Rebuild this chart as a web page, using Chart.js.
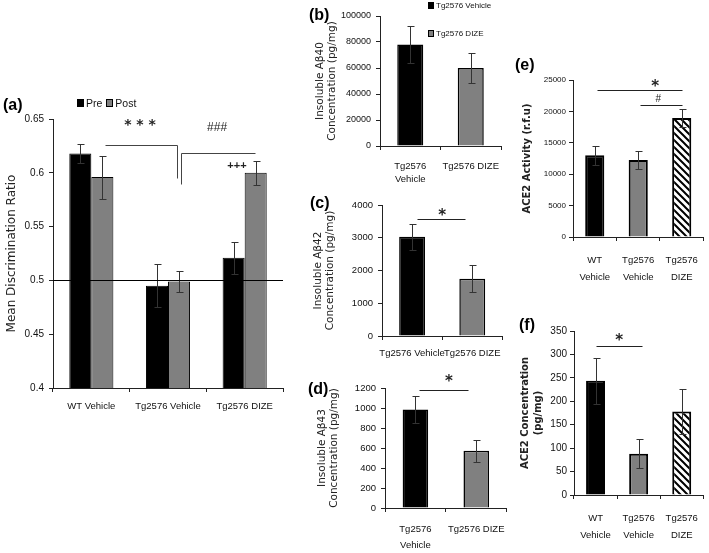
<!DOCTYPE html>
<html>
<head>
<meta charset="utf-8">
<script src="https://cdn.jsdelivr.net/npm/chart.js@4.4.1/dist/chart.umd.min.js"></script>
<style>
  html, body { margin: 0; padding: 0; background: #fff; }
  #fig { position: relative; width: 709px; height: 553px; overflow: hidden; background: #fff; }
  #fig canvas { position: absolute; }
  .lbl { position: absolute; font: bold 16px 'Liberation Sans', Arial, sans-serif; color: #000; line-height: 18px; }
  .leg { position: absolute; font-family: 'Liberation Sans', Arial, sans-serif; color: #111; white-space: nowrap; display: flex; align-items: center; }
  .sw { display: inline-block; border: 1px solid #000; box-sizing: border-box; margin-right: 2px; }
</style>
</head>
<body>
<div id="fig"></div>
<script>
const NARROW = "'Liberation Sans', Arial, sans-serif";
const WIDE = "'DejaVu Sans', Verdana, sans-serif";
const AXIS = '#222';

// (a) discrimination ratio, pre / post treatment
const groupsA = ['WT Vehicle', 'Tg2576 Vehicle', 'Tg2576 DIZE'];
const seriesA = ['Pre', 'Post'];
const preA = [0.618, 0.495, 0.521];
const preErrA = [0.009, 0.020, 0.015];
const postA = [0.596, 0.499, 0.600];
const postErrA = [0.020, 0.010, 0.011];
const ticksA = [0.4, 0.45, 0.5, 0.55, 0.6, 0.65];
const baselineA = 0.5;

// (b) insoluble Abeta40
const groupsB = [['Tg2576', 'Vehicle'], 'Tg2576 DIZE'];
const seriesB = ['Tg2576 Vehicle', 'Tg2576 DIZE'];
const valuesB = [78000, 60000];
const errB = [14300, 11500];
const ticksB = [0, 20000, 40000, 60000, 80000, 100000];

// (c) insoluble Abeta42
const groupsC = ['Tg2576 Vehicle', 'Tg2576 DIZE'];
const valuesC = [3030, 1750];
const errC = [400, 410];
const ticksC = [0, 1000, 2000, 3000, 4000];

// (d) insoluble Abeta43
const groupsD = [['Tg2576', 'Vehicle'], 'Tg2576 DIZE'];
const valuesD = [985, 572];
const errD = [135, 108];
const ticksD = [0, 200, 400, 600, 800, 1000, 1200];

// (e) ACE2 activity, (f) ACE2 concentration
const groupsEF = [['WT', 'Vehicle'], ['Tg2576', 'Vehicle'], ['Tg2576', 'DIZE']];
const valuesE = [13000, 12250, 18950];
const errE = [1500, 1430, 1500];
const ticksE = [0, 5000, 10000, 15000, 20000, 25000];
const valuesF = [244, 88, 178];
const errF = [49, 31, 48];
const ticksF = [0, 50, 100, 150, 200, 250, 300, 350];

const fig = document.getElementById('fig');

function makeHatch() {
    const s = 7;
    const c = document.createElement('canvas');
    c.width = s; c.height = s;
    const g = c.getContext('2d');
    g.fillStyle = '#fff';
    g.fillRect(0, 0, s, s);
    g.strokeStyle = '#000';
    g.lineWidth = 2;
    g.beginPath();
    g.moveTo(-1, -1); g.lineTo(s + 1, s + 1);
    g.moveTo(-1, s - 1); g.lineTo(1, s + 1);
    g.moveTo(s - 1, -1); g.lineTo(s + 1, 1);
    g.stroke();
    return g.createPattern(c, 'repeat');
}
const hatch = makeHatch();

const errorBars = {
    id: 'errorBars',
    afterDatasetsDraw(chart) {
        const ctx = chart.ctx;
        const y = chart.scales.y;
        ctx.save();
        ctx.strokeStyle = '#333';
        ctx.lineWidth = 1;
        chart.data.datasets.forEach((ds, i) => {
            if (!ds.errors) return;
            chart.getDatasetMeta(i).data.forEach((bar, j) => {
                const x = Math.round(bar.x) + 0.5;
                const hi = Math.round(y.getPixelForValue(ds.data[j] + ds.errors[j])) + 0.5;
                const lo = Math.round(y.getPixelForValue(ds.data[j] - ds.errors[j])) + 0.5;
                ctx.beginPath();
                ctx.moveTo(x, hi); ctx.lineTo(x, lo);
                ctx.moveTo(x - 3, hi); ctx.lineTo(x + 4, hi);
                ctx.moveTo(x - 3, lo); ctx.lineTo(x + 4, lo);
                ctx.stroke();
            });
        });
        ctx.restore();
    }
};

// significance lines and marks, placed in category / value units
function makeNotes(cfg) {
    return {
        id: 'notes',
        afterDatasetsDraw(chart) {
            const {ctx, chartArea} = chart;
            const x = chart.scales.x, y = chart.scales.y;
            ctx.save();
            if (cfg.refLine !== undefined) {
                const py = Math.round(y.getPixelForValue(cfg.refLine)) + 0.5;
                ctx.strokeStyle = '#000';
                ctx.lineWidth = 1;
                ctx.beginPath();
                ctx.moveTo(chartArea.left, py);
                ctx.lineTo(chartArea.right, py);
                ctx.stroke();
            }
            (cfg.lines || []).forEach(l => {
                ctx.strokeStyle = l.color || '#222';
                ctx.lineWidth = 1;
                ctx.beginPath();
                l.pts.forEach(([c, v], k) => {
                    const px = Math.round(x.getPixelForValue(c)) + 0.5;
                    const py = Math.round(y.getPixelForValue(v)) + 0.5;
                    if (k) ctx.lineTo(px, py); else ctx.moveTo(px, py);
                });
                ctx.stroke();
            });
            (cfg.marks || []).forEach(m => {
                ctx.font = m.font;
                ctx.fillStyle = '#222';
                ctx.textAlign = 'center';
                ctx.textBaseline = 'middle';
                ctx.fillText(m.text, x.getPixelForValue(m.at[0]), y.getPixelForValue(m.at[1]));
            });
            ctx.restore();
        }
    };
}

function makePanel(box, area, cfg) {
    const [bx, by, bw, bh] = box;
    const [L, T, R, B] = area;
    const cv = document.createElement('canvas');
    cv.width = bw; cv.height = bh;
    cv.style.left = bx + 'px';
    cv.style.top = by + 'px';
    cv.style.width = bw + 'px';
    cv.style.height = bh + 'px';
    fig.appendChild(cv);
    const tf = cfg.titleFont;
    return new Chart(cv, {
        type: 'bar',
        data: { labels: cfg.labels, datasets: cfg.datasets },
        options: {
            responsive: false,
            animation: false,
            devicePixelRatio: 1,
            layout: { padding: { left: 0, top: T - by, right: bx + bw - R, bottom: 0 } },
            plugins: { legend: { display: false }, tooltip: { enabled: false } },
            scales: {
                x: {
                    offset: true,
                    grid: { offset: true, drawOnChartArea: false, tickLength: 4, color: AXIS },
                    border: { color: AXIS },
                    ticks: { color: '#111', font: cfg.xFont, padding: cfg.xPad, maxRotation: 0, autoSkip: false },
                    afterFit: s => { s.height = by + bh - B; }
                },
                y: {
                    min: cfg.ticks[0],
                    max: cfg.ticks[cfg.ticks.length - 1],
                    grid: { drawOnChartArea: false, tickLength: 4, color: AXIS },
                    border: { color: AXIS },
                    ticks: { color: '#111', font: cfg.yFont, padding: cfg.yPad, callback: v => String(v) },
                    afterBuildTicks: s => { s.ticks = cfg.ticks.map(v => ({ value: v })); },
                    afterFit: s => { s.width = L - bx; },
                    title: {
                        display: true,
                        text: cfg.title,
                        color: '#222',
                        font: tf,
                        padding: { top: cfg.titleX - tf.size * tf.lineHeight / 2, bottom: 0 }
                    }
                }
            }
        },
        plugins: [errorBars, makeNotes(cfg)]
    });
}

function bars(values, errors, colors, width, pct) {
    return [{
        data: values,
        errors: errors,
        backgroundColor: colors,
        borderColor: '#000',
        borderWidth: width,
        borderSkipped: 'bottom',
        barPercentage: 1,
        categoryPercentage: pct
    }];
}

const STAR = 'bold 15px ' + WIDE;

// (a)
makePanel([0, 95, 290, 330], [53, 119, 283, 388], {
    labels: groupsA,
    datasets: [
        { label: seriesA[0], data: preA, errors: preErrA, backgroundColor: '#000', borderColor: '#000',
          borderWidth: 1, barPercentage: 1, categoryPercentage: 0.575 },
        { label: seriesA[1], data: postA, errors: postErrA, backgroundColor: '#808080', borderColor: '#000',
          borderWidth: 1, barPercentage: 1, categoryPercentage: 0.575 }
    ],
    ticks: ticksA,
    xFont: { family: NARROW, size: 9.5 }, xPad: 9,
    yFont: { family: NARROW, size: 10 }, yPad: 5,
    title: 'Mean Discrimination Ratio',
    titleFont: { family: WIDE, size: 12, lineHeight: 1.2 }, titleX: 12,
    refLine: baselineA,
    lines: [
        { color: '#444', pts: [[0.178, 0.626], [1.117, 0.626], [1.117, 0.595]] },
        { color: '#444', pts: [[1.17, 0.590], [1.17, 0.618], [2.136, 0.618]] }
    ],
    marks: [
        { text: '* * *', at: [0.635, 0.644], font: 'bold 14px ' + WIDE },
        { text: '###', at: [1.64, 0.6416], font: '12px ' + NARROW },
        { text: '+++', at: [1.90, 0.606], font: 'bold 11px ' + NARROW }
    ]
});

// (b)
makePanel([300, 0, 210, 185], [380, 16, 502, 146], {
    labels: groupsB,
    datasets: bars(valuesB, errB, ['#000', '#808080'], 1.5, 0.43),
    ticks: ticksB,
    xFont: { family: NARROW, size: 9.5, lineHeight: 1.45 }, xPad: 9,
    yFont: { family: NARROW, size: 9 }, yPad: 5,
    title: ['Insoluble A\u03b240', 'Concentration (pg/mg)'],
    titleFont: { family: WIDE, size: 10.5, lineHeight: 1.2 }, titleX: 20,
    marks: []
});

// (c)
makePanel([300, 190, 210, 180], [382, 205, 504, 336], {
    labels: groupsC,
    datasets: bars(valuesC, errC, ['#000', '#808080'], 1.5, 0.43),
    ticks: ticksC,
    xFont: { family: NARROW, size: 9.5 }, xPad: 8,
    yFont: { family: NARROW, size: 9.5 }, yPad: 5,
    title: ['Insoluble A\u03b242', 'Concentration (pg/mg)'],
    titleFont: { family: WIDE, size: 10.5, lineHeight: 1.2 }, titleX: 18,
    lines: [{ pts: [[0.074, 3570], [0.877, 3570]] }],
    marks: [{ text: '*', at: [0.5, 3650], font: STAR }]
});

// (d)
makePanel([300, 370, 215, 183], [385, 388, 509, 508], {
    labels: groupsD,
    datasets: bars(valuesD, errD, ['#000', '#808080'], 1.5, 0.42),
    ticks: ticksD,
    xFont: { family: NARROW, size: 9.5, lineHeight: 1.7 }, xPad: 9,
    yFont: { family: NARROW, size: 9.5 }, yPad: 5,
    title: ['Insoluble A\u03b243', 'Concentration (pg/mg)'],
    titleFont: { family: WIDE, size: 10.5, lineHeight: 1.2 }, titleX: 22,
    lines: [{ pts: [[0.065, 1180], [0.87, 1180]] }],
    marks: [{ text: '*', at: [0.55, 1255], font: STAR }]
});

// (e)
makePanel([510, 60, 199, 230], [573, 80, 708, 237], {
    labels: groupsEF,
    datasets: bars(valuesE, errE, ['#000', '#808080', hatch], 2, 0.44),
    ticks: ticksE,
    xFont: { family: NARROW, size: 9.5, lineHeight: 1.75 }, xPad: 11,
    yFont: { family: NARROW, size: 8 }, yPad: 3,
    title: 'ACE2 Activity (r.f.u)',
    titleFont: { family: WIDE, size: 10, weight: 'bold', lineHeight: 1.2 }, titleX: 17.5,
    lines: [
        { pts: [[0.055, 23400], [2.01, 23400]] },
        { pts: [[1.03, 21000], [2.01, 21000]] }
    ],
    marks: [
        { text: '*', at: [1.39, 23850], font: STAR },
        { text: '#', at: [1.46, 22000], font: '10px ' + NARROW }
    ]
});

// (f)
makePanel([510, 310, 199, 243], [574, 331, 708, 495], {
    labels: groupsEF,
    datasets: bars(valuesF, errF, ['#000', '#808080', hatch], 2, 0.44),
    ticks: ticksF,
    xFont: { family: NARROW, size: 9.5, lineHeight: 1.75 }, xPad: 11,
    yFont: { family: NARROW, size: 10 }, yPad: 3,
    title: ['ACE2 Concentration', '(pg/mg)'],
    titleFont: { family: WIDE, size: 10, weight: 'bold', lineHeight: 1.3 }, titleX: 15,
    lines: [{ pts: [[0.02, 318], [1.07, 318]] }],
    marks: [{ text: '*', at: [0.55, 329], font: STAR }]
});

// panel letters
[['(a)', 3, 96], ['(b)', 309, 6], ['(c)', 310, 194], ['(d)', 308, 380], ['(e)', 515, 56], ['(f)', 519, 316]]
    .forEach(([t, x, y]) => {
        const d = document.createElement('div');
        d.className = 'lbl';
        d.textContent = t;
        d.style.left = x + 'px';
        d.style.top = y + 'px';
        fig.appendChild(d);
    });

// legends
function legendItem(parent, text, color, size, gap) {
    const sw = document.createElement('span');
    sw.className = 'sw';
    sw.style.width = size + 'px';
    sw.style.height = (size + 1) + 'px';
    sw.style.background = color;
    const tx = document.createElement('span');
    tx.textContent = text;
    tx.style.marginRight = gap + 'px';
    parent.appendChild(sw);
    parent.appendChild(tx);
}
const legA = document.createElement('div');
legA.className = 'leg';
legA.style.cssText = 'left:77px;top:97px;font-size:10.5px;';
legendItem(legA, seriesA[0], '#000', 7, 4);
legendItem(legA, seriesA[1], '#808080', 7, 0);
fig.appendChild(legA);

[[seriesB[0], '#000', 1], [seriesB[1], '#808080', 29]].forEach(([t, c, y]) => {
    const d = document.createElement('div');
    d.className = 'leg';
    d.style.cssText = `left:428px;top:${y}px;font-size:8px;`;
    legendItem(d, t, c, 6, 0);
    fig.appendChild(d);
});
</script>
</body>
</html>
